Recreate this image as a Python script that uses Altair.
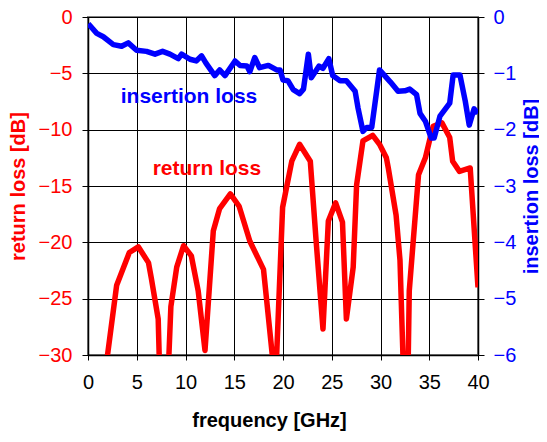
import altair as alt
import pandas as pd

# return loss (red), dB
rl_freq = [1.7, 2.94, 4.24, 5.16, 6.2, 6.5, 7.2, 7.3, 7.8, 8.3, 8.5, 9.1, 9.8, 10.6, 11.3, 12.0,
           12.85, 13.5, 14.6, 15.5, 16.6, 18.0, 18.9, 19.15, 19.35, 19.96, 20.9, 21.7, 22.8, 23.4,
           24.1, 24.65, 25.4, 26.1, 26.5, 27.2, 27.55, 28.2, 29.2, 29.9, 30.6, 30.8, 31.6, 32.0,
           32.3, 32.6, 32.85, 32.95, 33.9, 34.6, 35.1, 35.4, 36.3, 37.1, 37.4, 38.1, 39.2, 40.0]
rl_db = [-32, -23.8, -20.9, -20.4, -21.8, -23.2, -26.8, -30, -34, -30, -25.7, -22.2, -20.3, -21.2,
         -24.3, -29.6, -19.0, -17.0, -15.7, -16.8, -19.9, -22.4, -30, -33, -30, -16.9, -12.8, -11.3,
         -12.8, -19.9, -27.7, -18.1, -16.5, -18.2, -26.8, -22.2, -14.9, -11.0, -10.5, -11.3, -12.5,
         -13.4, -17.6, -21.6, -30, -34, -30, -24.3, -14.0, -12.5, -10.7, -9.7, -9.4, -10.7, -12.8,
         -13.7, -13.4, -24.0]

# insertion loss (blue), dB
il_freq = [0.03, 0.9, 1.57, 2.6, 3.45, 4.13, 4.98, 6.0, 6.87, 7.65, 8.4, 9.26, 9.6, 10.46, 11.1,
           11.65, 12.1, 13.0, 13.5, 14.05, 15.08, 15.6, 16.3, 16.6, 17.1, 17.6, 18.5, 19.35, 19.7,
           20.0, 20.5, 21.05, 21.7, 22.1, 22.6, 22.9, 23.7, 24.1, 24.7, 25.1, 25.85, 26.5, 27.4,
           27.7, 28.2, 28.6, 29.1, 29.9, 31.0, 31.8, 32.5, 33.0, 33.7, 34.05, 34.6, 35.2, 35.5,
           36.1, 37.1, 37.45, 38.15, 38.7, 39.1, 39.6, 40.0]
il_db = [-0.12, -0.29, -0.35, -0.49, -0.52, -0.46, -0.59, -0.61, -0.66, -0.61, -0.66, -0.74, -0.66,
         -0.75, -0.78, -0.69, -0.82, -1.04, -0.94, -1.04, -0.78, -0.86, -0.87, -0.97, -0.72, -0.9,
         -0.86, -0.94, -0.94, -1.12, -1.13, -1.29, -1.36, -1.28, -0.66, -1.08, -0.87, -0.91, -0.74,
         -1.04, -1.13, -1.13, -1.32, -1.62, -2.03, -1.96, -1.96, -0.94, -1.15, -1.32, -1.31, -1.28,
         -1.38, -1.71, -1.85, -2.15, -2.15, -1.76, -1.53, -1.03, -1.03, -1.5, -1.92, -1.63, -1.71]

# in-plot labels (positions in frequency / return-loss units)
label_text = ["insertion loss", "return loss"]
label_freq = [10.36, 12.2]
label_rl = [-7.06, -13.5]
label_color = ["#0000FF", "#FF0000"]

x_ticks = [0, 5, 10, 15, 20, 25, 30, 35, 40]
rl_ticks = [-30, -25, -20, -15, -10, -5, 0]
il_ticks = [-6, -5, -4, -3, -2, -1, 0]

FONT = "Liberation Sans"

rl_df = pd.DataFrame({"f": rl_freq, "rl": rl_db})
il_df = pd.DataFrame({"f": il_freq, "il": il_db})
lab_df = pd.DataFrame({"t": label_text, "f": label_freq, "rl": label_rl, "c": label_color})

x_scale = alt.Scale(domain=[0, 40], nice=False, padding=0, zero=False)

x_enc = alt.X("f:Q", scale=x_scale,
              axis=alt.Axis(values=x_ticks, grid=True, gridColor="#000000", gridWidth=1,
                            tickSize=5, tickColor="#000000", domainColor="#000000", domainWidth=1.5,
                            labelFlush=False,
                            labelFontSize=20, labelFont=FONT, labelColor="#000000", labelPadding=12,
                            title="frequency [GHz]", titleFont=FONT, titleFontSize=20,
                            titleFontWeight="bold", titleColor="#000000",
                            titleX=181, titleY=55, titleBaseline="top"))

rl_scale = alt.Scale(domain=[-30, 0], nice=False)

red = alt.Chart(rl_df).mark_line(color="#FF0000", strokeWidth=5.5, clip=True,
                                 strokeJoin="round").encode(
    x=x_enc,
    y=alt.Y("rl:Q", scale=rl_scale,
            axis=alt.Axis(values=rl_ticks, grid=True, gridColor="#000000", gridWidth=1,
                          tickSize=6, tickColor="#000000", domainColor="#000000", domainWidth=1.5,
                          labelFlush=False,
                          labelFontSize=20, labelFont=FONT, labelColor="#FF0000", labelPadding=10,
                          title="return loss [dB]", titleFont=FONT, titleFontSize=20,
                          titleFontWeight="bold", titleColor="#FF0000", titlePadding=10)),
    order=alt.Order("f:Q"),
)

texts = alt.Chart(lab_df).mark_text(font=FONT, fontSize=21, fontWeight="bold",
                                    align="center", baseline="middle").encode(
    x=alt.X("f:Q", scale=x_scale),
    y=alt.Y("rl:Q", scale=rl_scale),
    text="t:N",
    color=alt.Color("c:N", scale=None),
)

left = alt.layer(red, texts)

blue = alt.Chart(il_df).mark_line(color="#0000FF", strokeWidth=5.5, clip=True,
                                  strokeJoin="round").encode(
    x=alt.X("f:Q", scale=x_scale),
    y=alt.Y("il:Q", scale=alt.Scale(domain=[-6, 0], nice=False),
            axis=alt.Axis(orient="right", values=il_ticks, grid=False, labelFlush=False,
                          tickSize=6, tickColor="#000000", domainColor="#000000", domainWidth=1.5,
                          labelFontSize=20, labelFont=FONT, labelColor="#0000FF", labelPadding=9,
                          title="insertion loss [dB]", titleFont=FONT, titleFontSize=20,
                          titleFontWeight="bold", titleColor="#0000FF", titlePadding=6,
                          titleAngle=270, titleBaseline="top")),
    order=alt.Order("f:Q"),
)

chart = alt.layer(left, blue).resolve_scale(y="independent").properties(
    width=390, height=338,
    autosize=alt.AutoSizeParams(type="none"),
    padding={"left": 80, "top": 9, "right": 61, "bottom": 79},
    background="white",
).configure_view(stroke="#808080", strokeWidth=2)

chart.save("out.html", embed_options={"renderer": "svg", "actions": False})
